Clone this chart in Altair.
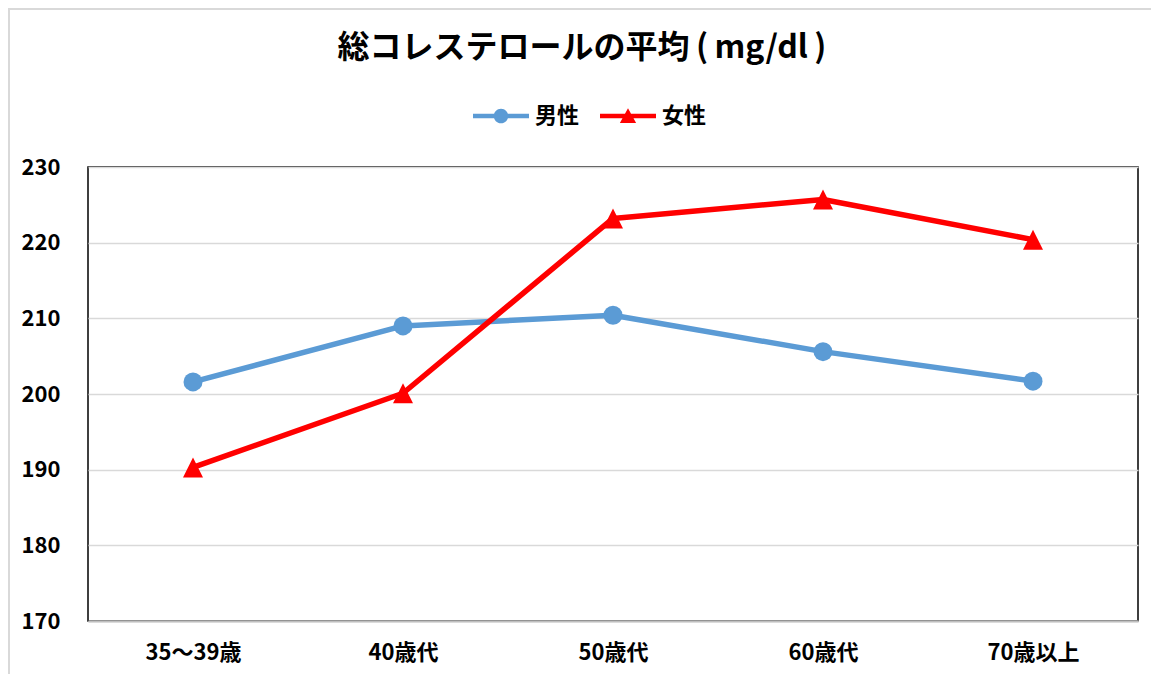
import altair as alt
import pandas as pd

categories = ["35～39歳", "40歳代", "50歳代", "60歳代", "70歳以上"]
series = ["男性", "女性"]
male = [201.6, 209.0, 210.4, 205.6, 201.7]
female = [190.3, 200.1, 223.2, 225.7, 220.4]
y_ticks = [170, 180, 190, 200, 210, 220, 230]
colors = ["#5B9BD5", "#FF0000"]

FONT = "Noto Sans CJK JP"

rows = []
for c, v in zip(categories, male):
    rows.append({"age": c, "series": "男性", "value": v})
for c, v in zip(categories, female):
    rows.append({"age": c, "series": "女性", "value": v})
df = pd.DataFrame(rows)

W, H = 1050, 454

is_male = "datum.series == '男性'"

x_enc = alt.X("age:N", sort=categories,
              scale=alt.Scale(type="point", padding=0.5),
              axis=alt.Axis(title=None, labelAngle=0, ticks=False, grid=False,
                            domain=True, domainColor="#BFBFBF", domainWidth=2,
                            labelFont=FONT, labelFontSize=22, labelFontWeight="bold",
                            labelColor="#000000", labelPadding=21))
y_enc = alt.Y("value:Q",
              scale=alt.Scale(domain=[170, 230], nice=False, zero=False),
              axis=alt.Axis(title=None, values=y_ticks, ticks=False, domain=False,
                            grid=True, gridColor="#D9D9D9", gridWidth=1.5,
                            labelFont=FONT, labelFontSize=22, labelFontWeight="bold",
                            labelColor="#000000", labelPadding=28))

base = alt.Chart(df)

lines = base.mark_line(strokeWidth=5.5, strokeJoin="round", strokeCap="round").encode(
    x=x_enc, y=y_enc,
    color=alt.condition(is_male, alt.value(colors[0]), alt.value(colors[1])),
    detail="series:N",
)

points = base.mark_point(filled=True, opacity=1, strokeWidth=0).encode(
    x=x_enc, y=y_enc,
    color=alt.condition(is_male, alt.value(colors[0]), alt.value(colors[1])),
    shape=alt.condition(is_male, alt.value("circle"), alt.value("M0,-1L1,1L-1,1Z")),
    size=alt.condition(is_male, alt.value(361), alt.value(400)),
)

male_sym = "M-1,-0.08L1,-0.08L1,0.08L-1,0.08Z M-0.26,0 A0.26,0.26 0 1,1 0.26,0 A0.26,0.26 0 1,1 -0.26,0 Z"
female_sym = "M-1,-0.08L1,-0.08L1,0.08L-1,0.08Z M0,-0.28L0.29,0.25L-0.29,0.25Z"

leg = dict(title=None, orient="none", direction="horizontal",
           legendX=385, legendY=-79, padding=0,
           symbolSize=3136, symbolStrokeWidth=0, symbolOpacity=1,
           labelFont=FONT, labelFontSize=22, labelFontWeight="bold",
           labelColor="#000000", labelOffset=6, columnPadding=20)

legend_layer = base.mark_point(filled=True, opacity=0, strokeWidth=0).encode(
    x=x_enc, y=y_enc,
    color=alt.Color("series:N", scale=alt.Scale(domain=series, range=colors),
                    legend=alt.Legend(**leg)),
    shape=alt.Shape("series:N", scale=alt.Scale(domain=series, range=[male_sym, female_sym]),
                    legend=alt.Legend(**leg)),
)

border = alt.Chart(pd.DataFrame({"a": [0]})).mark_rect(
    fill=None, stroke="#D9D9D9", strokeWidth=2
).encode(
    x=alt.value(-79), x2=alt.value(W + 40),
    y=alt.value(-158), y2=alt.value(H + 59),
)

chart = alt.layer(border, lines, points, legend_layer).properties(
    width=W, height=H,
    autosize=alt.AutoSizeParams(type="none"),
    padding={"left": 80, "top": 159, "right": 13, "bottom": 53},
    title=alt.TitleParams("総コレステロールの平均\u2009(\u2009mg/dl\u2009)", font=FONT, fontSize=32,
                          fontWeight="bold", color="#000000", anchor="middle",
                          dx=-31, offset=-57),
).configure_view(
    stroke="#000000", strokeWidth=1.5
)

chart.save("out.html", embed_options={"renderer": "svg", "actions": False})
